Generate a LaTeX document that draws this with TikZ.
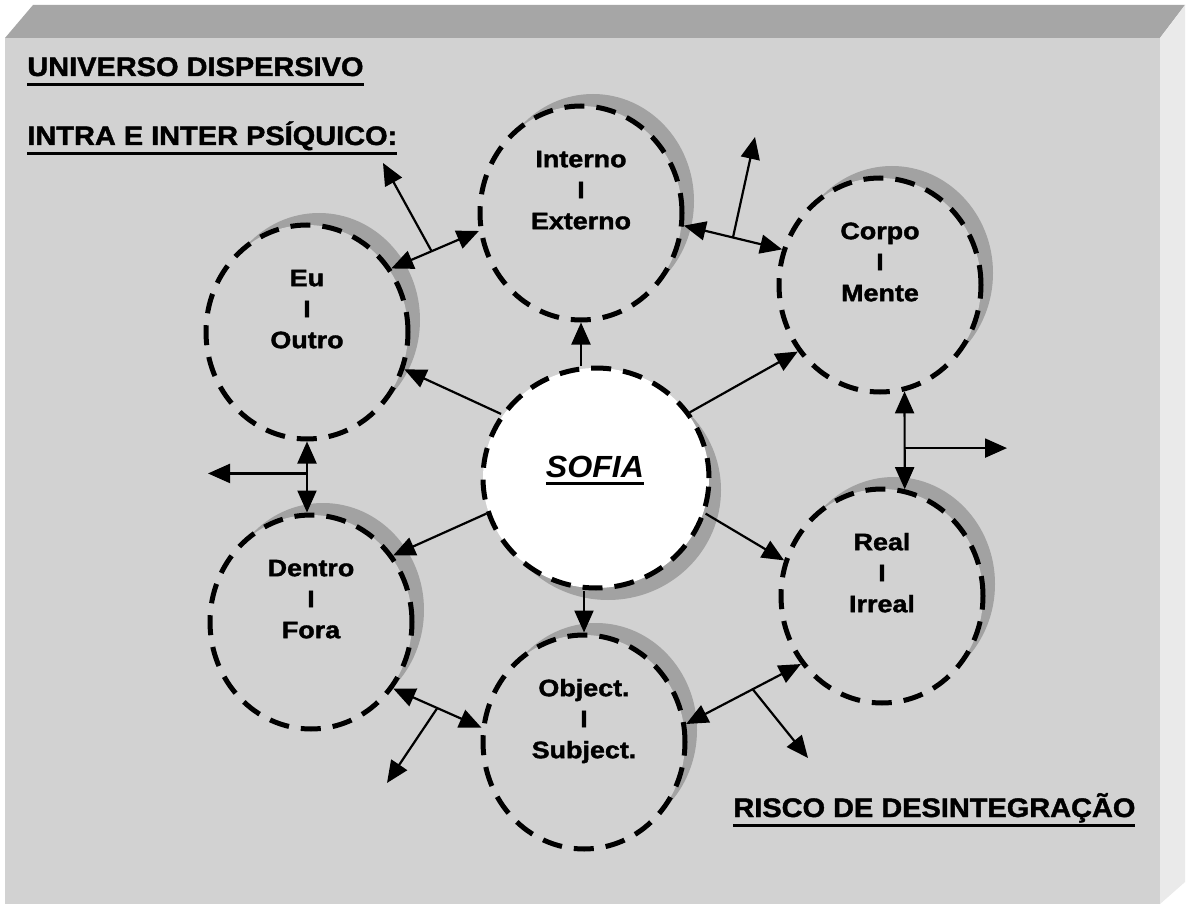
\documentclass[tikz,border=0pt]{standalone}
\usepackage{fontspec}
\setmainfont{Liberation Sans}[BoldFeatures={FakeBold=1.5}]
\usetikzlibrary{shapes.geometric,arrows.meta,shadows}
\definecolor{facegray}{HTML}{D2D2D2}
\definecolor{topgray}{HTML}{A6A6A6}
\definecolor{sidegray}{HTML}{EAEAEA}
\definecolor{shadegray}{HTML}{A2A2A2}
\newcommand\circtext[2]{\scalebox{1.13}[1]{\begin{tabular}{@{}c@{}}#1\\I\\#2\end{tabular}}}
\newcommand\ulx[3]{\setbox0=\hbox{#3}\rlap{\copy0}\rule[\dimexpr-#1-#2\relax]{\wd0}{#2}}
\begin{document}
\begin{tikzpicture}[x=0.5pt,y=-0.5pt,
  smallc/.style={ellipse, draw=black, line width=2.5pt, dash pattern=on 10pt off 6pt,
    fill=facegray, minimum width=101pt, minimum height=107pt, inner sep=0pt,
    drop shadow={shadow xshift=6pt, shadow yshift=6pt, fill=shadegray, opacity=1}},
  bigc/.style={ellipse, draw=black, line width=2.5pt, dash pattern=on 10pt off 6pt,
    fill=white, minimum width=113pt, minimum height=110pt, inner sep=0pt,
    drop shadow={shadow xshift=6pt, shadow yshift=-6pt, fill=shadegray, opacity=1}},
  lbl/.style={font=\fontsize{11.9}{15.5}\selectfont\bfseries, inner sep=0pt},
  ttl/.style={anchor=base west, inner sep=0pt, font=\fontsize{13.4}{16}\selectfont\bfseries},
  arr/.style={line width=1.1pt, -{Triangle[length=11pt,width=9.5pt]}},
  darr/.style={line width=1.1pt, {Triangle[length=11pt,width=9.5pt]}-{Triangle[length=11pt,width=9.5pt]}}]
\useasboundingbox (0,0) rectangle (1195,904);
% frame
\fill[white] (0,0) rectangle (1195,904);
\fill[topgray] (33,5) -- (1185,5) -- (1160,38) -- (5,38) -- cycle;
\fill[sidegray] (1160,38) -- (1185,5) -- (1185,882) -- (1160,904) -- cycle;
\fill[facegray] (5,38) rectangle (1160,904);
% circles
\node[smallc] (I) at (581,213) {};
\node[smallc] (E) at (307,332) {};
\node[smallc] (C) at (880,285) {};
\node[smallc] (D) at (311,622) {};
\node[smallc] (O) at (584,742) {};
\node[smallc] (R) at (882,596) {};
\node[bigc] (S) at (596,478) {};
% free ends
\coordinate (t1) at (383,163);
\coordinate (t2) at (755,137);
\coordinate (t3) at (1007,448);
\coordinate (t4) at (208,474);
\coordinate (t5) at (387,783);
\coordinate (t6) at (808,758);
% arrows from SOFIA
\draw[arr] (S.146) -- (E.-21);
\draw[arr] (S.north -| I.south) -- (I.south);
\draw[arr] (S.35) -- (C.219);
\draw[arr] (S.-18) -- (R.160);
\draw[arr] (S.south -| O.north) -- (O.north);
\draw[arr] (S.198) -- (D.39);
% double arrows with branches
\draw[darr] (E.37) -- coordinate[pos=0.46] (m1) (I.190);
\draw[arr] (m1) -- (t1);
\draw[darr] (I.-7) -- coordinate[pos=0.5] (m2) (C.160);
\draw[arr] (m2) -- (t2);
\draw[darr] (C.-77) -- coordinate[pos=0.58] (m3) (R.78);
\draw[arr] (m3) -- (m3 -| t3);
\draw[darr] (E.south) -- coordinate[pos=0.45] (m4) (E.south |- D.north);
\draw[arr] (m4) -- (m4 -| t4);
\draw[darr] (D.-39) -- coordinate[pos=0.5] (m5) (O.172);
\draw[arr] (m5) -- (t5);
\draw[darr] (O.10) -- coordinate[pos=0.58] (m6) (R.220);
\draw[arr] (m6) -- (t6);
% labels
\node[lbl] (It) at (581,192) {\circtext{Interno}{Externo}};
\node[lbl] (Et) at (307,311) {\circtext{Eu}{Outro}};
\node[lbl] (Ct) at (880,264) {\circtext{Corpo}{Mente}};
\node[lbl] (Dt) at (311,601) {\circtext{Dentro}{Fora}};
\node[lbl] (Ot) at (584,721) {\circtext{Object.}{Subject.}};
\node[lbl] (Rt) at (882,575) {\circtext{Real}{Irreal}};
\node[anchor=base, inner sep=0pt, font=\fontsize{15.3}{18}\selectfont\bfseries\itshape] (St) at (595,477)
  {\scalebox{1.05}[1]{\ulx{2.5pt}{1.5pt}{SOFIA}}};
% titles
\node[ttl] (T1) at (27,76) {\scalebox{1.08}[1]{\ulx{3.5pt}{1.5pt}{UNIVERSO DISPERSIVO}}};
\node[ttl] (T2) at (27,145) {\scalebox{1.08}[1]{\ulx{3.5pt}{1.5pt}{INTRA E INTER PSÍQUICO:}}};
\node[ttl] (T3) at (733,817) {\scalebox{1.08}[1]{\ulx{3.5pt}{1.5pt}{RISCO DE DESINTEGRAÇÃO}}};
\end{tikzpicture}
\end{document}
